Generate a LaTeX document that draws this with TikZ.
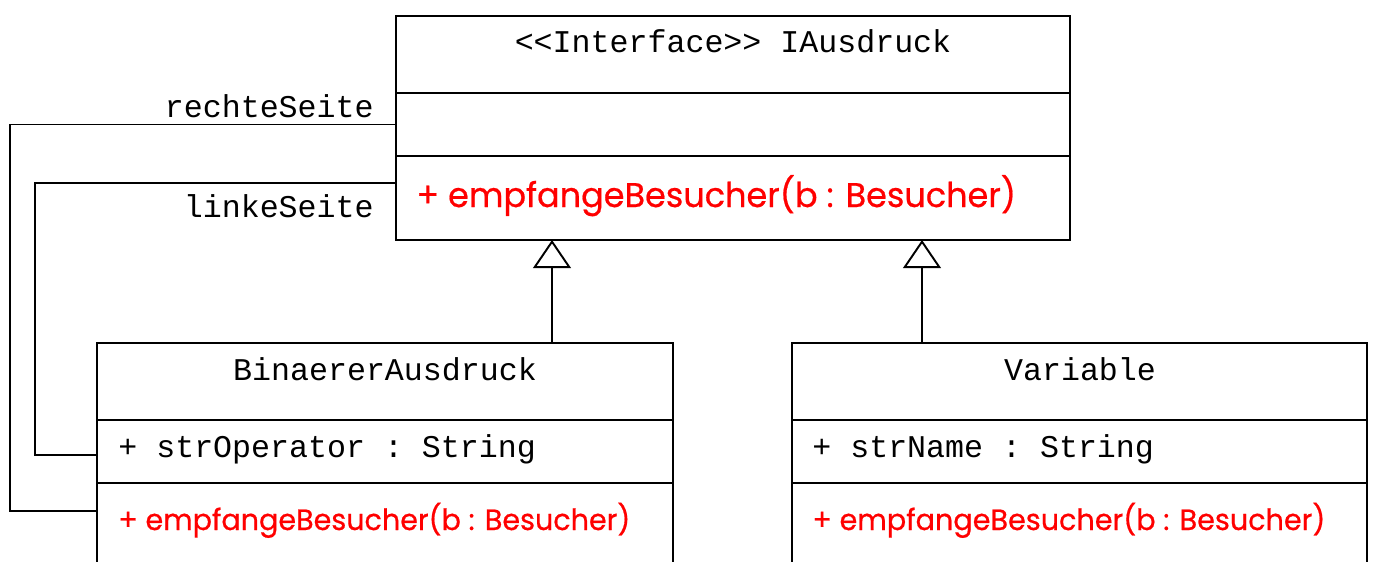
\documentclass[tikz,border=0pt]{standalone}
\usepackage{fontspec}
\usepackage{graphicx}
\setmonofont{Liberation Mono}
\newfontfamily\opfont{Poppins}[FakeBold=0.6]
\usetikzlibrary{arrows.meta,calc}
\definecolor{umlred}{RGB}{255,0,0}
\begin{document}
\begin{tikzpicture}[x=0.02cm, y=-0.02cm,
  cell/.style={draw, line width=1.1pt, inner sep=0pt, outer sep=0pt, anchor=north west},
  mono/.style={font=\ttfamily\fontsize{18}{20}\selectfont, inner sep=0pt},
  op/.style={text=umlred, inner sep=0pt, anchor=base west},
  assoc/.style={draw, line width=1.1pt},
  inherit/.style={draw, line width=1.1pt, -{Triangle[open, length=16pt, width=21.5pt]}}]
\useasboundingbox (0,0) rectangle (1375,561);
\clip (0,0) rectangle (1375,561);

% interface IAusdruck
\node[cell, minimum width=13.48cm, minimum height=1.54cm] (ia-head) at (396,16) {};
\node[cell, minimum width=13.48cm, minimum height=1.26cm] (ia-attr) at (ia-head.south west) {};
\node[cell, minimum width=13.48cm, minimum height=1.68cm] (ia-ops) at (ia-attr.south west) {};
\node[mono, anchor=base] (ia-name) at (733,52) {<{}<Interface>{}> IAusdruck};
\node[op] (ia-op) at (416,207) {\resizebox{341.3pt}{\height}{\opfont\fontsize{19.5}{22}\selectfont + empfangeBesucher(b : Besucher)}};

% class BinaererAusdruck
\node[cell, minimum width=11.52cm, minimum height=1.54cm] (bin-head) at (97,343) {};
\node[cell, minimum width=11.52cm, minimum height=1.26cm] (bin-attr) at (bin-head.south west) {};
\node[cell, minimum width=11.52cm, minimum height=3.2cm] (bin-ops) at (bin-attr.south west) {};
\node[mono, anchor=base] (bin-name) at (385,380) {BinaererAusdruck};
\node[mono, anchor=base west] (bin-field) at (118,457) {+ strOperator : String};
\node[op] (bin-op) at (118,530) {\resizebox{291.4pt}{\height}{\opfont\fontsize{16.7}{19}\selectfont + empfangeBesucher(b : Besucher)}};

% class Variable
\node[cell, minimum width=11.5cm, minimum height=1.54cm] (var-head) at (792,343) {};
\node[cell, minimum width=11.5cm, minimum height=1.26cm] (var-attr) at (var-head.south west) {};
\node[cell, minimum width=11.5cm, minimum height=3.2cm] (var-ops) at (var-attr.south west) {};
\node[mono, anchor=base] (var-name) at (1080,380) {Variable};
\node[mono, anchor=base west] (var-field) at (812,457) {+ strName : String};
\node[op] (var-op) at (812,530) {\resizebox{292pt}{\height}{\opfont\fontsize{16.7}{19}\selectfont + empfangeBesucher(b : Besucher)}};

% association role names
\node[mono, anchor=base east] (lbl-rechts) at (374,117) {rechteSeite};
\node[mono, anchor=base east] (lbl-links) at (374,217) {linkeSeite};

% associations
\draw[assoc] (ia-attr.west) -- ++(-386,0) |- ([yshift=-0.56cm]bin-ops.north west);
\draw[assoc] ([yshift=-0.54cm]ia-ops.north west) -- ++(-361,0) |- ([yshift=-0.7cm]bin-attr.north west);

% generalisations
\coordinate (gen-bin) at (552,343);
\coordinate (gen-var) at (922,343);
\draw[inherit] (gen-bin) -- (gen-bin |- ia-ops.south);
\draw[inherit] (gen-var) -- (gen-var |- ia-ops.south);
\end{tikzpicture}
\end{document}
